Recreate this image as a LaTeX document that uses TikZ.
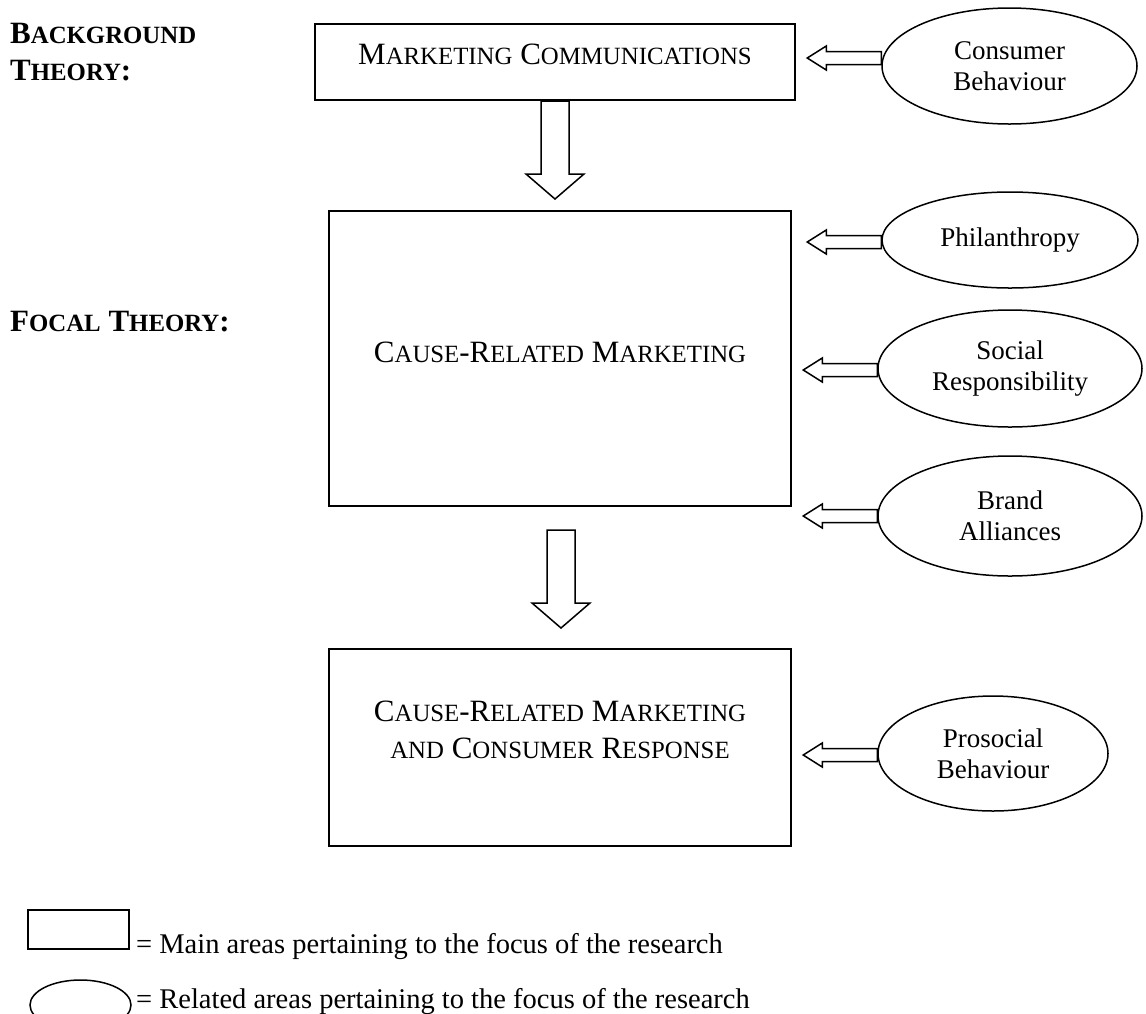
\documentclass[tikz,border=0pt]{standalone}
\usepackage{fontspec}
\setmainfont{Liberation Serif}
\usetikzlibrary{shapes.geometric,calc}
\newcommand\bx{\fontsize{31}{37}\selectfont}
\newcommand\Bsc[1]{{\fontsize{24.8}{37}\selectfont #1}}
\newcommand\ex{\fontsize{27}{31}\selectfont}
\newcommand\legfont{\fontsize{28.5}{33}\selectfont}
\newcommand\leftarr[1]{\draw[blk] #1 ++(0,-6.5) -- ++(-55,0) -- ++(0,-5.5) -- ++(-19,12) -- ++(19,12) -- ++(0,-5.5) -- ++(55,0) -- cycle;}
\newcommand\downarr[1]{\draw[blk] #1 ++(-14,0) -- ++(0,73) -- ++(-15,0) -- ++(29,25) -- ++(29,-25) -- ++(-15,0) -- ++(0,-73) -- cycle;}
\begin{document}
\begin{tikzpicture}[x=1pt,y=-1pt,
  mainbox/.style={draw,line width=2pt,rectangle,inner sep=0pt},
  relell/.style={draw,line width=1.5pt,ellipse,inner sep=0pt,align=center,font=\ex},
  blk/.style={draw,line width=1.5pt,line join=miter,fill=white},
  boxtext/.style={anchor=base,inner sep=0pt,font=\bx},
  heading/.style={anchor=base west,inner sep=0pt,font=\bx\bfseries},
  legtext/.style={anchor=base west,inner sep=0pt,font=\legfont}]
\useasboundingbox (0,0) rectangle (1146,1013);
\clip (0,0) rectangle (1146,1013);

% headings
\node[heading] (bg1) at (10,43) {B\Bsc{ACKGROUND}};
\node[heading] (bg2) at (10,80) {T\Bsc{HEORY}:};
\node[heading] (ft) at (10,331) {F\Bsc{OCAL} T\Bsc{HEORY}:};

% main boxes
\node[mainbox,minimum width=480pt,minimum height=76pt] (mc) at (555,62) {};
\node[boxtext] (mct) at (555,64) {M\Bsc{ARKETING} C\Bsc{OMMUNICATIONS}};

\node[mainbox,minimum width=462pt,minimum height=295pt] (crm) at (560,358.5) {};
\node[boxtext] (crmt) at (560,362) {C\Bsc{AUSE}-R\Bsc{ELATED} M\Bsc{ARKETING}};

\node[mainbox,minimum width=462pt,minimum height=197pt] (cr) at (560,747.5) {};
\node[boxtext] (crt1) at (560,721) {C\Bsc{AUSE}-R\Bsc{ELATED} M\Bsc{ARKETING}};
\node[boxtext] (crt2) at (560,758) {\Bsc{AND} C\Bsc{ONSUMER} R\Bsc{ESPONSE}};

% related ellipses
\node[relell,minimum width=255pt,minimum height=116pt] (cb) at (1009.5,66) {Consumer\\Behaviour};
\node[relell,minimum width=256pt,minimum height=96pt] (ph) at (1010,240) {Philanthropy};
\node[relell,minimum width=264pt,minimum height=117pt] (sr) at (1010,368.5) {Social\\Responsibility};
\node[relell,minimum width=264pt,minimum height=120pt] (ba) at (1010,516) {Brand\\Alliances};
\node[relell,minimum width=230pt,minimum height=115pt] (pb) at (993,753.5) {Prosocial\\Behaviour};

% block arrows
\downarr{(mc.south)}
\downarr{($(crm.south)+(1,23)$)}
\leftarr{($(cb.west)+(0,-8)$)}
\leftarr{($(ph.west)+(0,2)$)}
\leftarr{($(sr.west)+(0,1.5)$)}
\leftarr{(ba.west)}
\leftarr{($(pb.west)+(0,1.5)$)}

% legend
\node[mainbox,minimum width=101pt,minimum height=39pt] (lr) at (78.5,929.5) {};
\node[legtext] (lrt) at (136,953) {= Main areas pertaining to the focus of the research};
\node[draw,line width=1.5pt,ellipse,inner sep=0pt,minimum width=101pt,minimum height=50pt] (le) at (80.5,1005) {};
\node[legtext] (let) at (136,1008) {= Related areas pertaining to the focus of the research};
\end{tikzpicture}
\end{document}
